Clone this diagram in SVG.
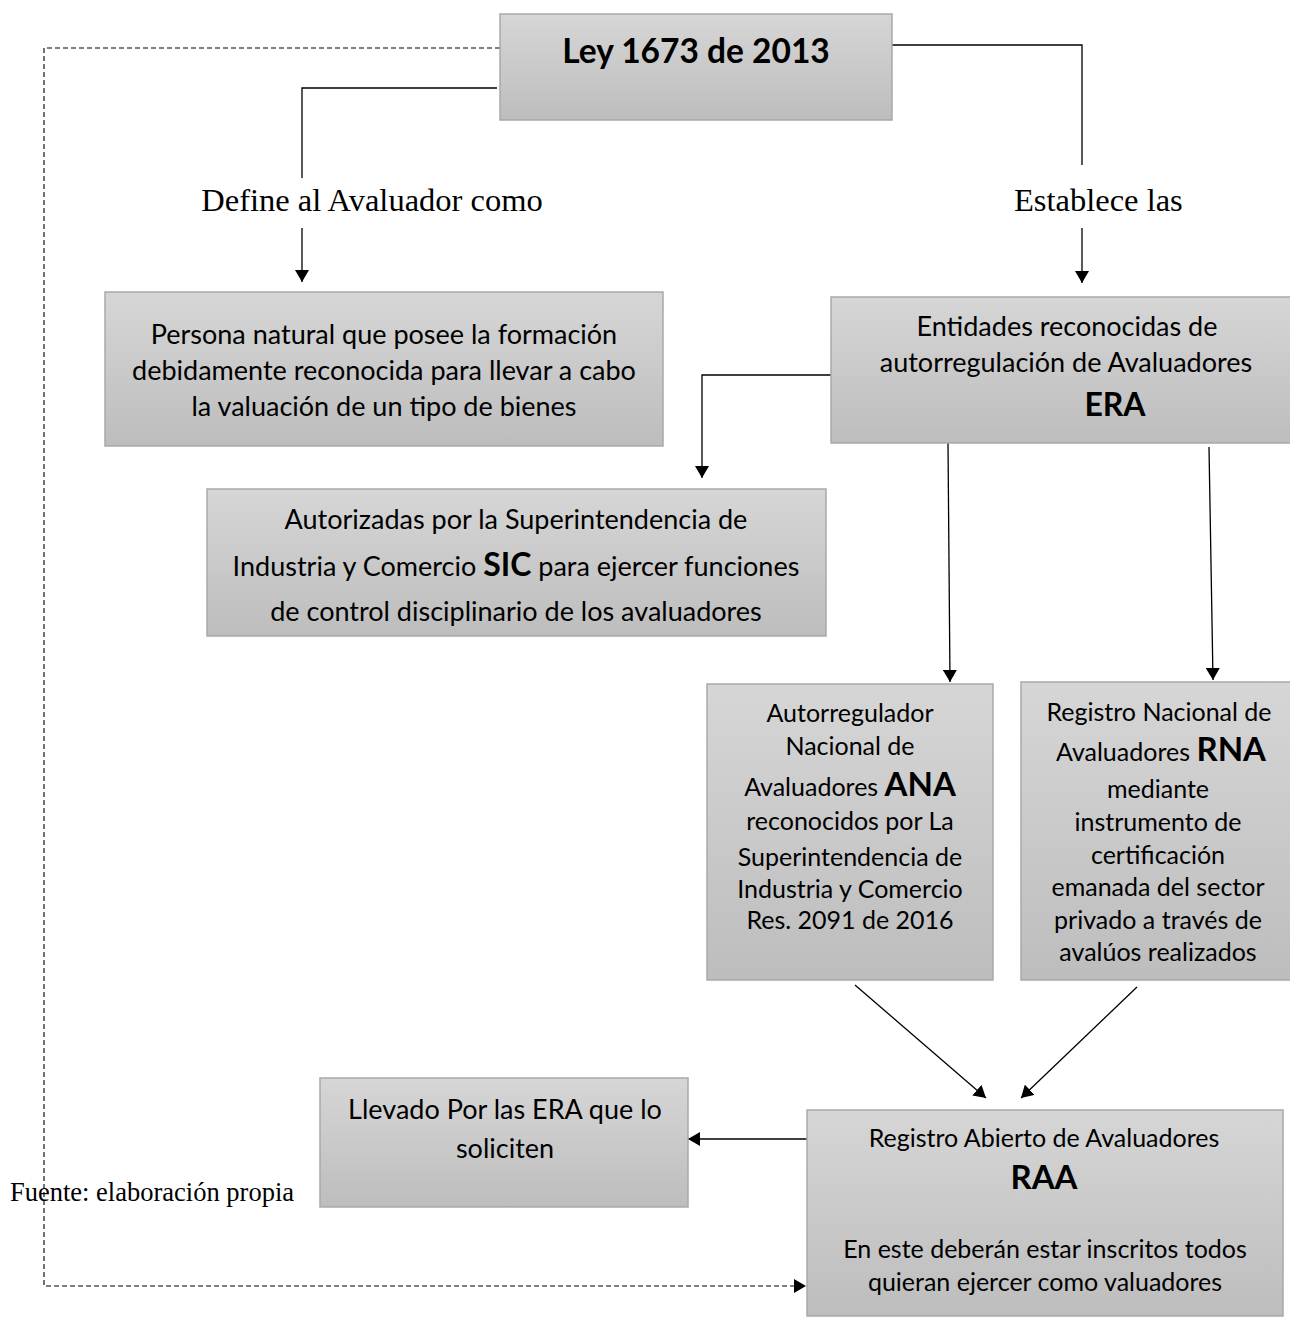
<svg xmlns="http://www.w3.org/2000/svg" width="1290" height="1318" viewBox="0 0 1290 1318">
<defs>
<linearGradient id="g" x1="0" y1="0" x2="0" y2="1">
<stop offset="0" stop-color="#d6d6d6"/>
<stop offset="1" stop-color="#bdbdbd"/>
</linearGradient>
<marker id="ah" viewBox="0 0 12 14" refX="12" refY="7" markerWidth="12" markerHeight="14" markerUnits="userSpaceOnUse" orient="auto">
<path d="M0,0 L12,7 L0,14 Z" fill="#000"/>
</marker>
</defs>
<style>
.box{fill:url(#g);stroke:#a9a9a9;stroke-width:1.5}
.t{font-family:Lato,"Open Sans",sans-serif;font-size:27px;fill:#000;text-anchor:middle}
.m{font-size:25px}
.b{font-weight:bold}
.s{font-family:"Liberation Serif",serif;font-size:32.5px;fill:#000}
.c{fill:none;stroke:#000;stroke-width:1.3}
.d{fill:none;stroke:#000;stroke-width:1.1;stroke-dasharray:5,3}
</style>
<rect width="1290" height="1318" fill="#fff"/>
<g id="connectors">
<polyline class="c" points="497,88 302,88 302,178"/>
<line class="c" x1="302" y1="228" x2="302" y2="282" marker-end="url(#ah)"/>
<polyline class="c" points="892,45 1082,45 1082,165"/>
<line class="c" x1="1082" y1="228" x2="1082" y2="283" marker-end="url(#ah)"/>
<polyline class="d" points="500,48 44,48 44,1286 806,1286" marker-end="url(#ah)"/>
<polyline class="c" points="831,375 702,375 702,478" marker-end="url(#ah)"/>
<line class="c" x1="948" y1="443" x2="950" y2="682" marker-end="url(#ah)"/>
<line class="c" x1="1209" y1="447" x2="1213" y2="680" marker-end="url(#ah)"/>
<line class="c" x1="855" y1="985" x2="986" y2="1098" marker-end="url(#ah)"/>
<line class="c" x1="1137" y1="987" x2="1021" y2="1098" marker-end="url(#ah)"/>
<line class="c" x1="807" y1="1139" x2="688" y2="1139" marker-end="url(#ah)"/>
</g>
<g id="ley">
<rect class="box" x="500" y="14" width="392" height="106"/>
<text class="t b" x="696" y="63" style="font-size:33.5px">Ley 1673 de 2013</text>
</g>
<g id="lbl-define"><text class="s" x="372" y="211" text-anchor="middle">Define al Avaluador como</text></g>
<g id="lbl-establece"><text class="s" x="1014" y="211">Establece las</text></g>
<g id="persona">
<rect class="box" x="105" y="292" width="558" height="154"/>
<text class="t" x="384" y="344">Persona natural que posee la formación</text>
<text class="t" x="384" y="380">debidamente reconocida para llevar a cabo</text>
<text class="t" x="384" y="416">la valuación de un tipo de bienes</text>
</g>
<g id="era">
<rect class="box" x="831" y="297" width="465" height="146"/>
<text class="t" x="1067" y="336">Entidades reconocidas de</text>
<text class="t" x="1066" y="372">autorregulación de Avaluadores</text>
<text class="t b" x="1115" y="416" style="font-size:32px">ERA</text>
</g>
<g id="sic">
<rect class="box" x="207" y="489" width="619" height="147"/>
<text class="t" x="516" y="529">Autorizadas por la Superintendencia de</text>
<text class="t" x="516" y="576">Industria y Comercio <tspan class="b" style="font-size:32px">SIC</tspan> para ejercer funciones</text>
<text class="t" x="516" y="621">de control disciplinario de los avaluadores</text>
</g>
<g id="ana">
<rect class="box" x="707" y="684" width="286" height="296"/>
<text class="t m" x="850" y="722">Autorregulador</text>
<text class="t m" x="850" y="755">Nacional de</text>
<text class="t m" x="850" y="796">Avaluadores <tspan class="b" style="font-size:33px">ANA</tspan></text>
<text class="t m" x="850" y="830">reconocidos por La</text>
<text class="t m" x="850" y="866">Superintendencia de</text>
<text class="t m" x="850" y="898">Industria y Comercio</text>
<text class="t m" x="850" y="929">Res. 2091 de 2016</text>
</g>
<g id="rna">
<rect class="box" x="1021" y="682" width="275" height="298"/>
<text class="t m" x="1159" y="721">Registro Nacional de</text>
<text class="t m" x="1161" y="761">Avaluadores  <tspan class="b" style="font-size:33px">RNA</tspan></text>
<text class="t m" x="1158" y="798">mediante</text>
<text class="t m" x="1158" y="831">instrumento de</text>
<text class="t m" x="1158" y="864">certificación</text>
<text class="t m" x="1158" y="896">emanada del sector</text>
<text class="t m" x="1158" y="929">privado a través de</text>
<text class="t m" x="1158" y="961">avalúos realizados</text>
</g>
<g id="raa">
<rect class="box" x="807" y="1110" width="476" height="206"/>
<text class="t m" x="1044" y="1147">Registro Abierto de Avaluadores</text>
<text class="t b" x="1044" y="1189" style="font-size:33px">RAA</text>
<text class="t m" x="1045" y="1258">En este deberán estar inscritos todos</text>
<text class="t m" x="1045" y="1291">quieran ejercer como valuadores</text>
</g>
<g id="llevado">
<rect class="box" x="320" y="1078" width="368" height="129"/>
<text class="t" x="505" y="1119">Llevado Por las ERA que lo</text>
<text class="t" x="505" y="1158">soliciten</text>
</g>
<g id="fuente"><text x="10" y="1201" style="font-family:'Liberation Serif',serif;font-size:26.5px">Fuente: elaboración propia</text></g>
</svg>
